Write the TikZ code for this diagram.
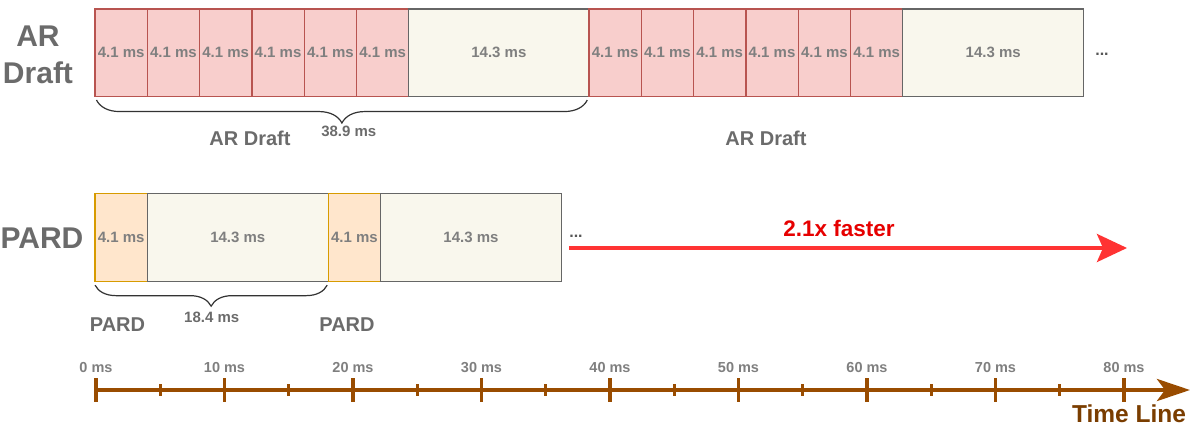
\documentclass[tikz,border=0pt]{standalone}
\usepackage{fontspec}
\setmainfont{Liberation Sans}
\usepackage{tikz}
\usetikzlibrary{arrows.meta,positioning,calc,decorations.pathreplacing}
\definecolor{draftfill}{HTML}{F8CECC}
\definecolor{draftline}{HTML}{B85450}
\definecolor{verfill}{HTML}{F9F7ED}
\definecolor{verline}{HTML}{666666}
\definecolor{pardfill}{HTML}{FFE6CC}
\definecolor{pardline}{HTML}{D79B00}
\definecolor{labgray}{HTML}{6B6B6B}
\definecolor{boxgray}{HTML}{7F7F7F}
\definecolor{fastred}{HTML}{FF3333}
\definecolor{fasttext}{HTML}{E60000}
\definecolor{timebrown}{HTML}{994C00}
\definecolor{timetext}{HTML}{7A3D00}
\newcommand{\pxfont}[2]{\fontsize{#1}{#2}\selectfont\bfseries}

\begin{document}
\begin{tikzpicture}[
    slot/.style={draw, line width=1.2pt, minimum height=87.5pt, inner sep=0pt, outer sep=0pt, font={\pxfont{15}{18}}, text=boxgray},
    draft/.style={slot, fill=draftfill, draw=draftline, minimum width=52.3pt},
    verify/.style={slot, fill=verfill, draw=verline, minimum width=180.8pt},
    pard/.style={slot, fill=pardfill, draw=pardline, minimum width=52.3pt},
    rowname/.style={font={\pxfont{30}{37}}, text=labgray, align=center},
    tag/.style={font={\pxfont{20}{24}}, text=labgray, anchor=base},
    span/.style={font={\pxfont{15}{18}}, text=labgray, anchor=base},
    more/.style={font={\pxfont{16}{18}}, text=labgray!80!black, anchor=base},
    bracket/.style={decorate, decoration={brace, amplitude=#1}, draw=black!80, line width=1.2pt},
    faster/.style={draw=fastred, line width=3.5pt, -{Stealth[length=30pt, width=28pt, inset=6pt]}},
    timeline/.style={draw=timebrown, line width=4pt, -{Stealth[length=33pt, width=22pt, inset=8pt]}},
    majortick/.style={draw=timebrown, line width=3.5pt},
    minortick/.style={draw=timebrown, line width=3pt},
    mslabel/.style={font={\pxfont{14.5}{17}}, text=boxgray, anchor=base},
    x=1pt, y=-1pt
]
\useasboundingbox (0,0) rectangle (1200,431);

% --- Row names ---
\node[rowname] (arname) at (38,55) {AR\\Draft};
\node[rowname] (pardname) at (42,238) {PARD};

% --- AR draft row ---
\foreach \i in {1,...,6}
  \node[draft] (a\i) at ({95+52.3*\i-26.15},52.8) {4.1 ms};
\node[verify] (av1) at (498.9,52.8) {14.3 ms};
\foreach \i in {7,...,12}
  \node[draft] (a\i) at ({589+52.3*(\i-6)-26.15},52.8) {4.1 ms};
\node[verify] (av2) at (993.2,52.8) {14.3 ms};
\node[more] (armore) at (1102,55) {...};

\draw[bracket=23pt] ($(av1.south east)+(-2,3.5)$) -- ($(a1.south west)+(1.5,3.5)$);
\node[span] (arspan) at (348.8,136.7) {38.9 ms};
\node[tag] (artag1) at (250,145.7) {AR Draft};
\node[tag] (artag2) at (766,145.7) {AR Draft};

% --- PARD row ---
\node[pard] (p1) at (121.2,237.4) {4.1 ms};
\node[verify] (pv1) at (237.8,237.4) {14.3 ms};
\node[pard] (p2) at (354.4,237.4) {4.1 ms};
\node[verify] (pv2) at (471,237.4) {14.3 ms};
\node[more] (pardmore) at (576,237) {...};

\draw[bracket=21pt] ($(pv1.south east)+(-1,4)$) -- ($(p1.south west)+(0,4)$);
\node[span] (pardspan) at (211.7,322.7) {18.4 ms};
\node[tag] (pardtag1) at (117.5,331.7) {PARD};
\node[tag] (pardtag2) at (347,331.7) {PARD};

% --- Speed-up ---
\coordinate (fs) at (569,248);
\coordinate (fe) at (1127,248);
\draw[faster] (fs) -- (fe);
\node[font={\pxfont{22.5}{26}}, text=fasttext, anchor=base] (fastlab) at (839,236) {2.1x faster};

% --- Time line ---
\coordinate (t0) at (96,390);
\coordinate (tend) at (1190,390);
\draw[timeline] (t0) -- (tend);
\foreach \k in {0,...,7}
  \draw[minortick] ($(t0)+(128.5*\k+64.25,-6)$) -- ++(0,12);
\foreach \k [evaluate=\k as \ms using int(10*\k)] in {0,...,8} {
  \draw[majortick] ($(t0)+(128.5*\k,-12)$) -- ++(0,24);
  \node[mslabel] (ms\k) at ($(t0)+(128.5*\k,-17.3)$) {\ms\ ms};
}
\node[font={\pxfont{24.5}{28}}, text=timetext, anchor=base] (tlab) at (1129,422.5) {Time Line};

\end{tikzpicture}
\end{document}
